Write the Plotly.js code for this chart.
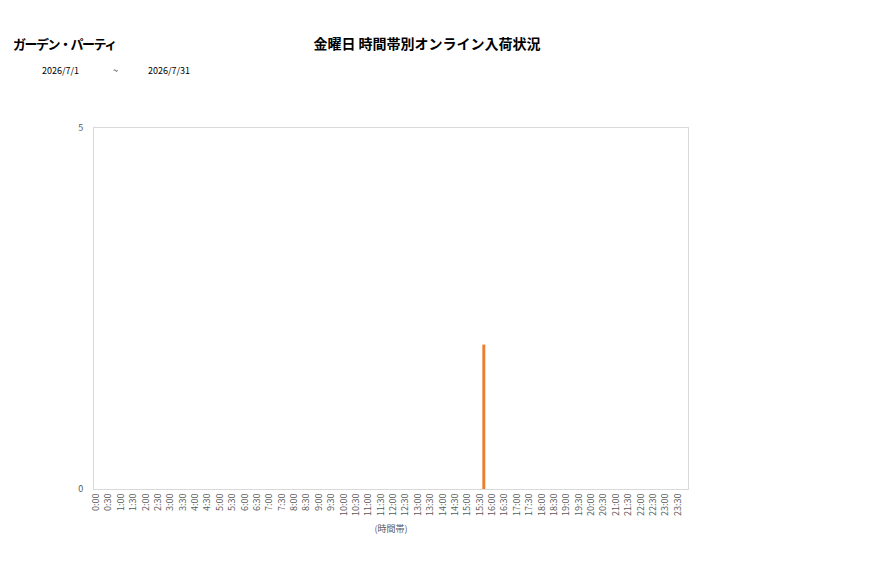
<!DOCTYPE html>
<html><head><meta charset="utf-8">
<script src="https://cdn.plot.ly/plotly-3.0.1.min.js"></script>
<style>html,body{margin:0;padding:0;background:#fff;}#chart{width:877px;height:578px;}</style>
</head><body><div id="chart"></div>
<script>
const timeSlots = ["0:00","0:30","1:00","1:30","2:00","2:30","3:00","3:30","4:00","4:30","5:00","5:30","6:00","6:30","7:00","7:30","8:00","8:30","9:00","9:30","10:00","10:30","11:00","11:30","12:00","12:30","13:00","13:30","14:00","14:30","15:00","15:30","16:00","16:30","17:00","17:30","18:00","18:30","19:00","19:30","20:00","20:30","21:00","21:30","22:00","22:30","23:00","23:30"];
const arrivals = [0,0,0,0,0,0,0,0,0,0,0,0,0,0,0,0,0,0,0,0,0,0,0,0,0,0,0,0,0,0,0,2,0,0,0,0,0,0,0,0,0,0,0,0,0,0,0,0];
const yTicks = [0,5];
const chartTitle = "金曜日 時間帯別オンライン入荷状況";
const storeName = "ガーデン・パーティ";
const dateFrom = "2026/7/1";
const dateTo = "2026/7/31";
const xTitle = "(時間帯)";

const font = "'Noto Sans CJK JP', 'Noto Sans', sans-serif";
const data = [{
  type: "bar",
  x: timeSlots,
  y: arrivals,
  marker: {color: "#ED7D31"},
  hoverinfo: "x+y"
}];
const layout = {
  width: 877, height: 578,
  paper_bgcolor: "#fff", plot_bgcolor: "#fff",
  margin: {l: 94, r: 189, t: 128, b: 89},
  bargap: 0.76,
  showlegend: false,
  font: {family: font, color: "#595959"},
  title: {text: "<b>" + chartTitle + "</b>", x: 427/877, xanchor: "center", y: 1-44/578, yanchor: "middle",
          font: {family: font, size: 14, color: "#000"}},
  xaxis: {
    type: "category",
    tickvals: timeSlots, ticktext: timeSlots,
    tickangle: -90,
    tickfont: {size: 9, color: "#595959"},
    ticklabelshift: -4,
    showline: true, linecolor: "#d9d9d9", linewidth: 1, mirror: true,
    showgrid: false, ticks: "", ticklen: 0,
    title: {text: xTitle, font: {size: 9, color: "#595959"}, standoff: 10},
    fixedrange: true
  },
  yaxis: {
    range: [0, 5],
    tickvals: yTicks,
    tickfont: {size: 9, color: "#595959"},
    showline: true, linecolor: "#d9d9d9", linewidth: 1, mirror: true,
    showgrid: false, zeroline: false, ticks: "", ticklen: 0,
    ticklabelstandoff: 8,
    fixedrange: true
  },
  annotations: [
    {text: "<b><span style=\"letter-spacing:-1.5px\">" + storeName + "</span></b>", xref: "paper", yref: "paper", x: -94/594, xanchor: "left",
     y: 1 + (128-43)/361, yanchor: "middle", showarrow: false,
     font: {family: font, size: 13, color: "#000"}, xshift: 11},
    {text: dateFrom, xref: "paper", yref: "paper", x: -94/594, xanchor: "left",
     y: 1 + (128-70)/361, yanchor: "middle", showarrow: false,
     font: {family: font, size: 9, color: "#000"}, xshift: 40},
    {text: "~", xref: "paper", yref: "paper", x: -94/594, xanchor: "left",
     y: 1 + (128-70)/361, yanchor: "middle", showarrow: false,
     font: {family: font, size: 9, color: "#000"}, xshift: 111},
    {text: dateTo, xref: "paper", yref: "paper", x: -94/594, xanchor: "left",
     y: 1 + (128-70)/361, yanchor: "middle", showarrow: false,
     font: {family: font, size: 9, color: "#000"}, xshift: 146}
  ]
};
Plotly.newPlot("chart", data, layout, {displayModeBar: false, staticPlot: true});
</script>
</body></html>
